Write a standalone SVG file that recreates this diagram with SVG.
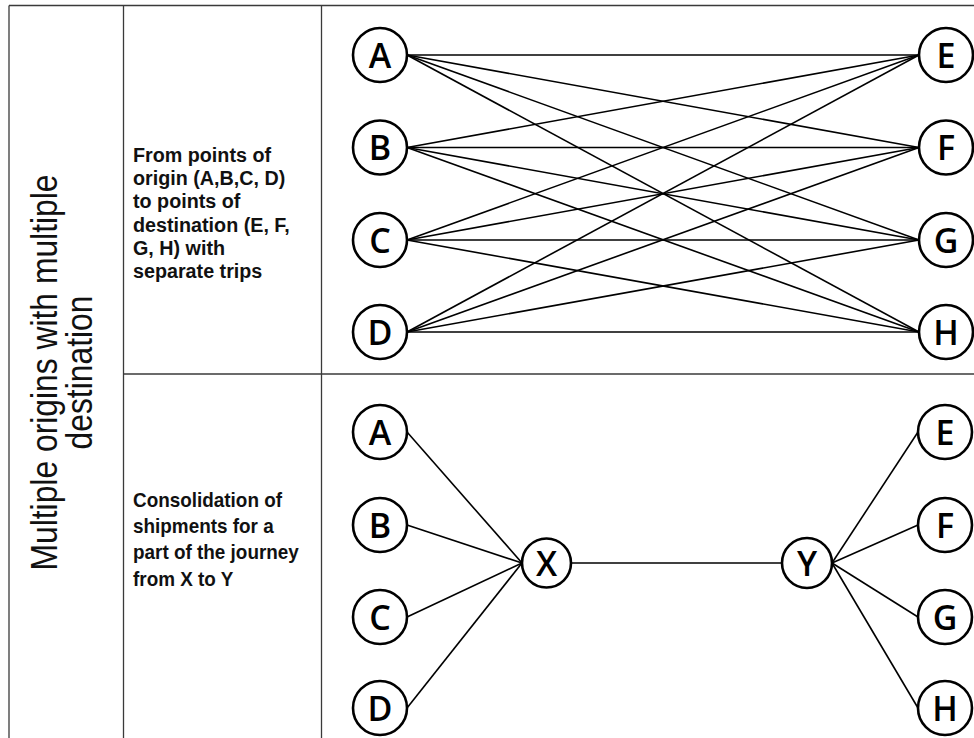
<svg xmlns="http://www.w3.org/2000/svg" width="974" height="738" viewBox="0 0 974 738">
  <style>
    .grid { stroke: #3a3a3a; stroke-width: 1.3; fill: none; }
    .edge { stroke: #000; stroke-width: 1.6; fill: none; }
    .node circle { fill: #fff; stroke: #000; stroke-width: 2.6; }
    .node text { font-family: "Open Sans", "DejaVu Sans", sans-serif; font-weight: 600; font-size: 34px; fill: #000; text-anchor: middle; }
    .side { font-family: "Liberation Sans", Arial, sans-serif; font-size: 37px; fill: #111; text-anchor: middle; }
    .note { font-family: "Liberation Sans", Arial, sans-serif; font-weight: bold; fill: #111; }
  </style>
  <rect width="974" height="738" fill="#fff"/>

  <!-- table frame -->
  <g id="table" class="grid">
    <line x1="9" y1="5.5" x2="974" y2="5.5"/>
    <line x1="9" y1="5.5" x2="9" y2="738"/>
    <line x1="123.5" y1="5.5" x2="123.5" y2="738"/>
    <line x1="321.5" y1="5.5" x2="321.5" y2="738"/>
    <line x1="123.5" y1="374" x2="974" y2="374"/>
  </g>

  <!-- row heading -->
  <g id="heading">
    <text class="side" transform="translate(56.5 372.5) rotate(-90) scale(0.86 1)">Multiple origins with multiple</text>
    <text class="side" transform="translate(92 372.5) rotate(-90) scale(0.86 1)">destination</text>
  </g>

  <!-- descriptions -->
  <g id="desc-direct" class="note" transform="translate(133 0) scale(0.94 1)" font-size="21">
    <text x="0" y="162.3">From points of</text>
    <text x="0" y="185.4">origin (A,B,C, D)</text>
    <text x="0" y="208.5">to points of</text>
    <text x="0" y="231.6">destination (E, F,</text>
    <text x="0" y="254.7">G, H) with</text>
    <text x="0" y="277.8">separate trips</text>
  </g>
  <g id="desc-consolidated" class="note" transform="translate(133 0) scale(0.9 1)" font-size="21">
    <text x="0" y="507">Consolidation of</text>
    <text x="0" y="533.2">shipments for a</text>
    <text x="0" y="559.4">part of the journey</text>
    <text x="0" y="585.6">from X to Y</text>
  </g>

  <!-- connectors -->
  <g id="connectors" class="edge">
    <!-- direct trips: every origin to every destination -->
    <line x1="407" y1="55" x2="919" y2="55"/>
    <line x1="407" y1="55" x2="919" y2="147.5"/>
    <line x1="407" y1="55" x2="919" y2="240"/>
    <line x1="407" y1="55" x2="919" y2="332"/>
    <line x1="407" y1="147.5" x2="919" y2="55"/>
    <line x1="407" y1="147.5" x2="919" y2="147.5"/>
    <line x1="407" y1="147.5" x2="919" y2="240"/>
    <line x1="407" y1="147.5" x2="919" y2="332"/>
    <line x1="407" y1="240" x2="919" y2="55"/>
    <line x1="407" y1="240" x2="919" y2="147.5"/>
    <line x1="407" y1="240" x2="919" y2="240"/>
    <line x1="407" y1="240" x2="919" y2="332"/>
    <line x1="407" y1="332" x2="919" y2="55"/>
    <line x1="407" y1="332" x2="919" y2="147.5"/>
    <line x1="407" y1="332" x2="919" y2="240"/>
    <line x1="407" y1="332" x2="919" y2="332"/>
    <!-- consolidated: origins to X, X to Y, Y to destinations -->
    <line x1="407" y1="432" x2="522" y2="563"/>
    <line x1="407" y1="525" x2="522" y2="563"/>
    <line x1="407" y1="617" x2="522" y2="563"/>
    <line x1="407" y1="708" x2="522" y2="563"/>
    <line x1="571" y1="563" x2="782" y2="563"/>
    <line x1="832" y1="563" x2="918" y2="432"/>
    <line x1="832" y1="563" x2="918" y2="525"/>
    <line x1="832" y1="563" x2="918" y2="617"/>
    <line x1="832" y1="563" x2="918" y2="708"/>
  </g>

  <!-- nodes: direct trips -->
  <g id="t-A" class="node"><circle cx="380" cy="55" r="27"/><text x="380" y="67.5">A</text></g>
  <g id="t-B" class="node"><circle cx="380" cy="147.5" r="27"/><text x="380" y="160">B</text></g>
  <g id="t-C" class="node"><circle cx="380" cy="240" r="27"/><text x="380" y="252.5">C</text></g>
  <g id="t-D" class="node"><circle cx="380" cy="332" r="27"/><text x="380" y="344.5">D</text></g>
  <g id="t-E" class="node"><circle cx="946" cy="55" r="27"/><text x="946" y="67.5">E</text></g>
  <g id="t-F" class="node"><circle cx="946" cy="147.5" r="27"/><text x="946" y="160">F</text></g>
  <g id="t-G" class="node"><circle cx="946" cy="240" r="27"/><text x="946" y="252.5">G</text></g>
  <g id="t-H" class="node"><circle cx="946" cy="332" r="27"/><text x="946" y="344.5">H</text></g>

  <!-- nodes: consolidated -->
  <g id="b-A" class="node"><circle cx="380" cy="432" r="27"/><text x="380" y="444.5">A</text></g>
  <g id="b-B" class="node"><circle cx="380" cy="525" r="27"/><text x="380" y="537.5">B</text></g>
  <g id="b-C" class="node"><circle cx="380" cy="617" r="27"/><text x="380" y="629.5">C</text></g>
  <g id="b-D" class="node"><circle cx="380" cy="708" r="27"/><text x="380" y="720.5">D</text></g>
  <g id="b-X" class="node"><circle cx="546.5" cy="563" r="24.5"/><text x="546.5" y="575.5">X</text></g>
  <g id="b-Y" class="node"><circle cx="807" cy="563" r="25"/><text x="807" y="575.5">Y</text></g>
  <g id="b-E" class="node"><circle cx="945" cy="432" r="27"/><text x="945" y="444.5">E</text></g>
  <g id="b-F" class="node"><circle cx="945" cy="525" r="27"/><text x="945" y="537.5">F</text></g>
  <g id="b-G" class="node"><circle cx="945" cy="617" r="27"/><text x="945" y="629.5">G</text></g>
  <g id="b-H" class="node"><circle cx="945" cy="708" r="27"/><text x="945" y="720.5">H</text></g>
</svg>
